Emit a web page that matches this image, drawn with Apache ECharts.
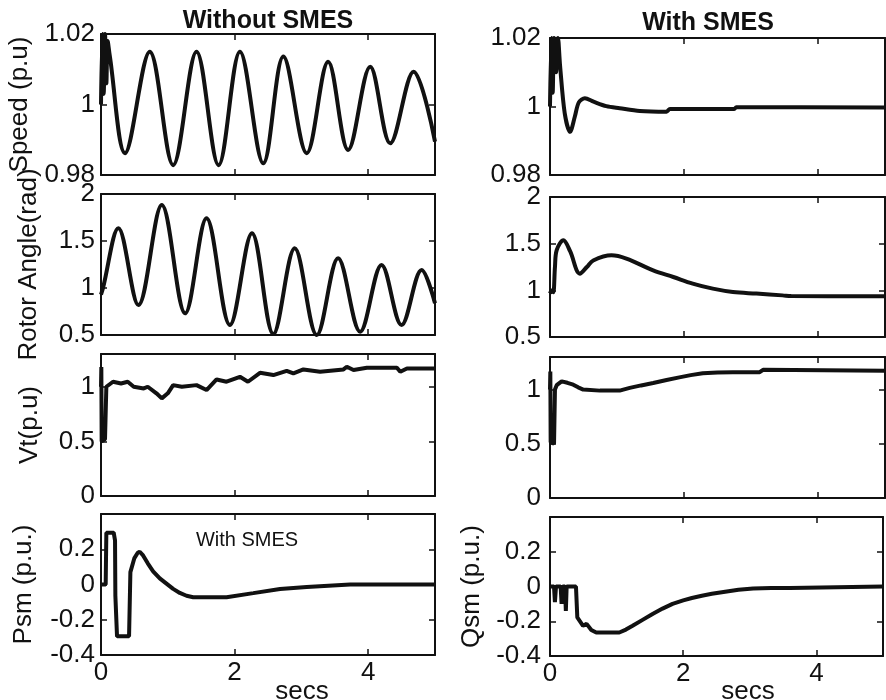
<!DOCTYPE html>
<html>
<head>
<meta charset="utf-8">
<script src="https://cdn.jsdelivr.net/npm/echarts@6/dist/echarts.min.js"></script>
<style>
  html, body { margin: 0; background: #fff; }
  #chart { width: 886px; height: 700px; }
</style>
</head>
<body>
<div id="chart"></div>
<script>
// tick labels
const timeTicks = [0, 2, 4];
const speedTicks = [0.98, 1, 1.02];
const angleTicks = [0.5, 1, 1.5, 2];
const vtTicks = [0, 0.5, 1];
const powerTicks = [-0.4, -0.2, 0, 0.2];

// curves, [time (s), value]
const speedWithout = [[0, 1.0], [0.02, 1.02], [0.04, 1.003], [0.06, 1.02], [0.08, 1.006], [0.1, 1.018], [0.13, 1.014],
  [0.36, 0.9862], [0.73, 1.015], [1.08, 0.9828], [1.43, 1.015], [1.76, 0.9828], [2.08, 1.015], [2.43, 0.9833],
  [2.73, 1.0136], [3.08, 0.9862], [3.40, 1.0121], [3.70, 0.9871], [4.03, 1.0107], [4.33, 0.989], [4.68, 1.0093], [5.0, 0.9895]];
const angleWithout = [[0, 0.93], [0.03, 1.0], [0.26, 1.635], [0.56, 0.819], [0.91, 1.883], [1.26, 0.731], [1.58, 1.741],
  [1.93, 0.606], [2.26, 1.582], [2.58, 0.51], [2.90, 1.422], [3.23, 0.5], [3.55, 1.316], [3.88, 0.535], [4.20, 1.245],
  [4.50, 0.606], [4.80, 1.191], [5.0, 0.837]];
const vtWithout = [[0, 1.0], [0.005, 1.18], [0.01, 0.5], [0.06, 0.52], [0.08, 1.0], [0.18, 1.046], [0.30, 1.03], [0.40, 1.046],
  [0.49, 1.0], [0.64, 0.985], [0.70, 1.0], [0.83, 0.94], [0.91, 0.894], [1.0, 0.94], [1.08, 1.015], [1.21, 1.0], [1.43, 1.015],
  [1.58, 0.97], [1.73, 1.067], [1.88, 1.046], [2.08, 1.091], [2.20, 1.046], [2.38, 1.128], [2.58, 1.107], [2.78, 1.146],
  [2.88, 1.122], [3.03, 1.159], [3.28, 1.137], [3.63, 1.159], [3.68, 1.183], [3.78, 1.153], [3.98, 1.174], [4.43, 1.174],
  [4.48, 1.137], [4.58, 1.168], [5.0, 1.168]];
const psm = [[0, 0], [0.07, 0], [0.08, 0.294], [0.19, 0.294], [0.21, 0.25], [0.215, -0.063], [0.235, -0.063], [0.24, -0.294],
  [0.42, -0.294], [0.44, 0.07], [0.50, 0.15], [0.55, 0.18], [0.58, 0.186], [0.63, 0.165], [0.70, 0.12], [0.78, 0.075],
  [0.88, 0.035], [0.98, 0.005], [1.08, -0.025], [1.18, -0.048], [1.28, -0.064], [1.38, -0.072], [1.88, -0.072],
  [2.28, -0.049], [2.68, -0.025], [3.08, -0.014], [3.73, 0], [5.0, 0]];

const speedWith = [[0, 1.0], [0.02, 1.02], [0.04, 1.004], [0.06, 1.02], [0.09, 1.01], [0.12, 1.02], [0.15, 1.012],
  [0.22, 0.998], [0.30, 0.9926], [0.37, 0.997], [0.43, 1.0012], [0.52, 1.0024], [0.65, 1.0014], [0.84, 1.0001],
  [1.04, 0.9995], [1.34, 0.9987], [1.74, 0.9985], [1.79, 0.9993], [2.75, 0.9993], [2.78, 0.9998], [5.0, 0.9997]];
const angleWith = [[0, 0.965], [0.03, 1.0], [0.05, 0.98], [0.074, 1.25], [0.1, 1.43], [0.2, 1.536], [0.3, 1.42],
  [0.446, 1.179], [0.55, 1.25], [0.645, 1.32], [0.918, 1.375], [1.14, 1.34], [1.54, 1.214], [1.84, 1.143], [2.13, 1.072],
  [2.43, 1.018], [2.73, 0.982], [3.08, 0.965], [3.47, 0.946], [3.6, 0.938], [5.0, 0.936]];
const vtWith = [[0, 1.0], [0.005, 1.167], [0.01, 0.515], [0.06, 0.5], [0.074, 1.0], [0.1, 1.04], [0.174, 1.075],
  [0.26, 1.062], [0.347, 1.045], [0.42, 1.02], [0.496, 1.0], [0.744, 0.99], [1.04, 0.99], [1.19, 1.015], [1.36, 1.038],
  [1.54, 1.06], [1.74, 1.088], [1.93, 1.112], [2.1, 1.133], [2.28, 1.151], [2.5, 1.157], [2.73, 1.16], [3.13, 1.16],
  [3.18, 1.182], [5.0, 1.173]];
const qsm = [[0, 0], [0.06, 0], [0.074, -0.09], [0.09, 0], [0.16, 0], [0.174, -0.1], [0.19, 0], [0.225, 0], [0.238, -0.14],
  [0.25, 0], [0.39, 0], [0.41, -0.178], [0.496, -0.226], [0.55, -0.215], [0.62, -0.25], [0.694, -0.265], [1.04, -0.265],
  [1.14, -0.248], [1.24, -0.226], [1.39, -0.192], [1.54, -0.158], [1.69, -0.127], [1.84, -0.1], [2.0, -0.08],
  [2.13, -0.066], [2.28, -0.053], [2.43, -0.042], [2.63, -0.03], [2.83, -0.019], [3.05, -0.012], [3.32, -0.008],
  [3.6, -0.008], [3.62, 0], [5.0, 0]];

const FONT = "'Liberation Sans', Arial, Helvetica, sans-serif";
const INK = '#111';

function onlyTicks(list) {
  return function (v) {
    const hit = list.find(t => Math.abs(t - v) < 1e-6);
    return hit === undefined ? '' : String(hit);
  };
}

// box = [left, top, width, height], y = [min, max, interval]
const panels = [
  { box: [101, 34, 334, 141], y: [0.98, 1.02, 0.02], ticks: speedTicks, name: 'Speed (p.u)', gap: 68, data: speedWithout, smooth: 0.35, lm: 6 },
  { box: [101, 194, 334, 141], y: [0.5, 2, 0.5], ticks: angleTicks, name: 'Rotor Angle(rad)', gap: 59, data: angleWithout, smooth: 0.35, lm: 6 },
  { box: [101, 354, 334, 142], y: [0, 1.3, 0.5], ticks: vtTicks, name: 'Vt(p.u)', gap: 58, data: vtWithout, lm: 6 },
  { box: [101, 514, 334, 141], y: [-0.4, 0.4, 0.2], ticks: powerTicks, name: 'Psm (p.u.)', gap: 64, data: psm, xLabels: true, lm: 6 },
  { box: [550, 38, 335, 137], y: [0.98, 1.02, 0.02], ticks: speedTicks, data: speedWith, smooth: 0.3, lm: 9 },
  { box: [550, 197, 335, 140], y: [0.5, 2, 0.5], ticks: angleTicks, data: angleWith, smooth: 0.35, lm: 9 },
  { box: [550, 357, 335, 141], y: [0, 1.3, 0.5], ticks: vtTicks, data: vtWith, lm: 9 },
  { box: [550, 517, 335, 139], y: [-0.4, 0.4, 0.2], ticks: powerTicks, name: 'Qsm (p.u.)', gap: 65, data: qsm, xLabels: true, lm: 9 }
];

const lineAxis = { show: true, onZero: false, lineStyle: { color: INK, width: 2 } };
const tick = { show: true, inside: true, length: 6, lineStyle: { color: INK, width: 1.5 } };
const labelFont = { fontSize: 26, color: INK, fontFamily: FONT };

const grid = [], xAxis = [], yAxis = [], series = [];
panels.forEach((p, i) => {
  grid.push({ left: p.box[0], top: p.box[1], width: p.box[2], height: p.box[3] });
  ['bottom', 'top'].forEach(pos => {
    xAxis.push({
      type: 'value', gridIndex: i, position: pos, min: 0, max: 5, interval: 2,
      axisLine: lineAxis, axisTick: tick, splitLine: { show: false },
      axisLabel: { show: pos === 'bottom' && !!p.xLabels, margin: 5, formatter: onlyTicks(timeTicks), ...labelFont }
    });
  });
  ['left', 'right'].forEach(pos => {
    const ax = {
      type: 'value', gridIndex: i, position: pos, min: p.y[0], max: p.y[1], interval: p.y[2],
      axisLine: lineAxis, axisTick: tick, splitLine: { show: false },
      axisLabel: { show: pos === 'left', margin: p.lm, formatter: onlyTicks(p.ticks), ...labelFont }
    };
    if (pos === 'left' && p.name) {
      ax.name = p.name;
      ax.nameLocation = 'middle';
      ax.nameGap = p.gap;
      ax.nameTextStyle = labelFont;
    }
    yAxis.push(ax);
  });
  series.push({
    type: 'line', xAxisIndex: 2 * i, yAxisIndex: 2 * i, data: p.data,
    showSymbol: false, smooth: p.smooth || false, silent: true,
    lineStyle: { color: INK, width: 4 }
  });
});

function note(text, x, y, size, weight) {
  return {
    type: 'text', x: x, y: y, silent: true,
    style: {
      text: text, fill: INK, fontSize: size, fontWeight: weight || 'normal', fontFamily: FONT,
      align: 'center', verticalAlign: 'middle', textAlign: 'center', textVerticalAlign: 'middle'
    }
  };
}

const chart = echarts.init(document.getElementById('chart'));
chart.setOption({
  backgroundColor: '#fff',
  animation: false,
  grid: grid,
  xAxis: xAxis,
  yAxis: yAxis,
  series: series,
  graphic: [
    note('Without SMES', 268, 21, 25, 'bold'),
    note('With SMES', 708, 23, 25, 'bold'),
    note('With SMES', 247, 540, 20),
    note('secs', 302, 692, 26),
    note('secs', 748, 692, 26)
  ]
});
</script>
</body>
</html>
